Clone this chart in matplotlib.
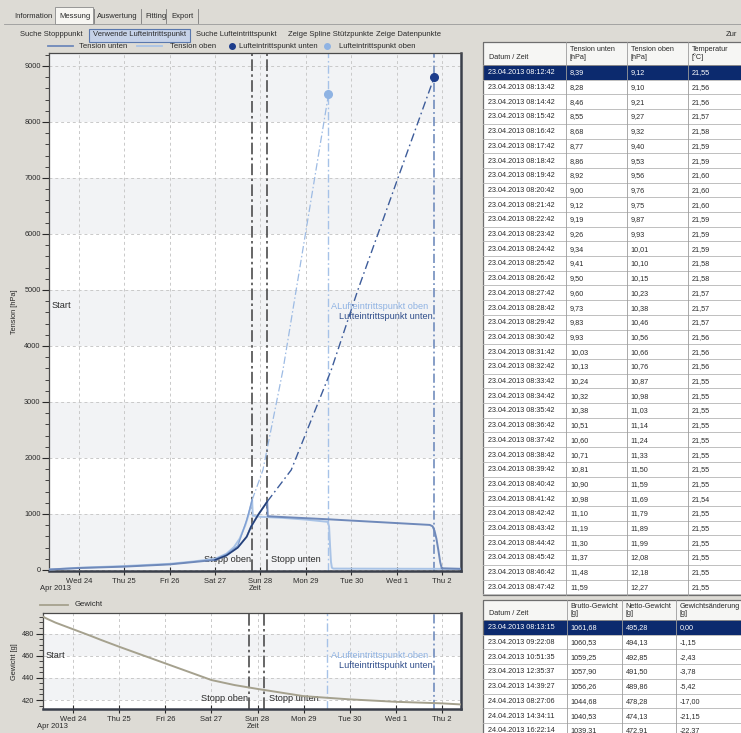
import matplotlib

matplotlib.use("Agg")
import matplotlib.dates as mdates
import matplotlib.pyplot as plt
import numpy as np
from matplotlib.lines import Line2D
from matplotlib.patches import Rectangle
from matplotlib.ticker import FuncFormatter, MultipleLocator

plt.rcParams["font.family"] = ["Liberation Sans", "DejaVu Sans"]

W, H = 741, 733
BG = "#dddbd5"

# ---------------- data ----------------
t_oben = ["2013-04-23 08:12", "2013-04-23 20:00", "2013-04-24 00:00", "2013-04-25 00:00",
          "2013-04-26 00:00", "2013-04-26 12:00", "2013-04-27 00:00", "2013-04-27 06:00",
          "2013-04-27 10:00", "2013-04-27 13:00", "2013-04-27 16:00", "2013-04-27 18:00",
          "2013-04-27 19:36", "2013-04-27 19:55", "2013-04-28 00:00", "2013-04-28 12:00",
          "2013-04-29 00:00", "2013-04-29 11:30", "2013-04-29 12:15", "2013-04-29 12:45",
          "2013-04-29 13:15", "2013-04-29 13:45", "2013-04-29 14:30", "2013-05-02 10:00"]
tension_oben = [9, 30, 40, 70, 110, 150, 200, 290, 410, 560, 800, 1020, 1250, 970, 950, 930,
                900, 860, 780, 450, 150, 40, 25, 20]

t_unten = ["2013-04-23 08:12", "2013-04-24 00:00", "2013-04-25 00:00", "2013-04-26 00:00",
           "2013-04-26 12:00", "2013-04-27 00:00", "2013-04-27 06:00", "2013-04-27 12:00",
           "2013-04-27 16:44", "2013-04-27 19:00", "2013-04-27 22:43", "2013-04-28 03:33",
           "2013-04-28 03:50", "2013-04-28 12:00", "2013-04-29 12:00", "2013-04-30 12:00",
           "2013-05-01 17:30", "2013-05-01 19:00", "2013-05-01 20:00", "2013-05-01 21:00",
           "2013-05-01 22:00", "2013-05-01 23:00", "2013-05-01 23:50", "2013-05-02 10:00"]
tension_unten = [8, 35, 60, 100, 140, 180, 260, 400, 595, 773, 982, 1220, 960, 945, 905, 860,
                 805, 780, 700, 560, 360, 140, 30, 20]

t_fit_oben = ["2013-04-27 00:00", "2013-04-27 06:00", "2013-04-27 12:00", "2013-04-27 16:44",
              "2013-04-27 19:36"]
fit_oben = [190, 280, 430, 893, 1250]
t_fit_unten = ["2013-04-27 00:00", "2013-04-27 06:00", "2013-04-27 12:00", "2013-04-27 16:44",
               "2013-04-27 19:00", "2013-04-27 22:43", "2013-04-28 03:33"]
fit_unten = [180, 260, 400, 595, 773, 982, 1220]

t_extra_oben = ["2013-04-27 19:36", "2013-04-28 01:18", "2013-04-28 11:53", "2013-04-29 11:57"]
extra_oben = [1250, 1786, 3571, 8494]
t_extra_unten = ["2013-04-28 03:33", "2013-04-28 16:15", "2013-04-29 13:24", "2013-04-30 03:29",
                 "2013-05-01 00:37", "2013-05-01 19:49"]
extra_unten = [1220, 1786, 3571, 5000, 6994, 8798]

t_stopp_oben = "2013-04-27 19:36"
t_stopp_unten = "2013-04-28 03:33"
t_luft_oben = "2013-04-29 11:57"
t_luft_unten = "2013-05-01 19:49"
luft_oben_value = 8494
luft_unten_value = 8798

t_gewicht = ["2013-04-23 08:13", "2013-04-23 09:22", "2013-04-23 10:51", "2013-04-23 12:35",
             "2013-04-23 14:39", "2013-04-24 08:27", "2013-04-24 14:34", "2013-04-25 00:00",
             "2013-04-26 00:00", "2013-04-27 00:00", "2013-04-27 12:00", "2013-04-28 00:00",
             "2013-04-29 00:00", "2013-04-30 00:00", "2013-05-01 00:00", "2013-05-02 00:00",
             "2013-05-02 10:00"]
gewicht = [495.28, 494.13, 492.85, 491.50, 489.86, 478.28, 474.13, 468, 453, 438, 433.5, 430,
           423.5, 420.6, 418.4, 417, 416]

x_range = ["2013-04-23 08:12:42", "2013-05-02 10:00"]

tab1_headers = ["Datum / Zeit", "Tension unten\n[hPa]", "Tension oben\n[hPa]", "Temperatur\n[°C]"]
tab1_time = [
    "23.04.2013 08:12:42", "23.04.2013 08:13:42", "23.04.2013 08:14:42", "23.04.2013 08:15:42",
    "23.04.2013 08:16:42", "23.04.2013 08:17:42", "23.04.2013 08:18:42", "23.04.2013 08:19:42",
    "23.04.2013 08:20:42", "23.04.2013 08:21:42", "23.04.2013 08:22:42", "23.04.2013 08:23:42",
    "23.04.2013 08:24:42", "23.04.2013 08:25:42", "23.04.2013 08:26:42", "23.04.2013 08:27:42",
    "23.04.2013 08:28:42", "23.04.2013 08:29:42", "23.04.2013 08:30:42", "23.04.2013 08:31:42",
    "23.04.2013 08:32:42", "23.04.2013 08:33:42", "23.04.2013 08:34:42", "23.04.2013 08:35:42",
    "23.04.2013 08:36:42", "23.04.2013 08:37:42", "23.04.2013 08:38:42", "23.04.2013 08:39:42",
    "23.04.2013 08:40:42", "23.04.2013 08:41:42", "23.04.2013 08:42:42", "23.04.2013 08:43:42",
    "23.04.2013 08:44:42", "23.04.2013 08:45:42", "23.04.2013 08:46:42", "23.04.2013 08:47:42",
]
tab1_unten = [8.39, 8.28, 8.46, 8.55, 8.68, 8.77, 8.86, 8.92, 9.00, 9.12, 9.19, 9.26,
              9.34, 9.41, 9.50, 9.60, 9.73, 9.83, 9.93, 10.03, 10.13, 10.24, 10.32, 10.38,
              10.51, 10.60, 10.71, 10.81, 10.90, 10.98, 11.10, 11.19, 11.30, 11.37, 11.48, 11.59]
tab1_oben = [9.12, 9.10, 9.21, 9.27, 9.32, 9.40, 9.53, 9.56, 9.76, 9.75, 9.87, 9.93,
             10.01, 10.10, 10.15, 10.23, 10.38, 10.46, 10.56, 10.66, 10.76, 10.87, 10.98, 11.03,
             11.14, 11.24, 11.33, 11.50, 11.59, 11.69, 11.79, 11.89, 11.99, 12.08, 12.18, 12.27]
tab1_temp = [21.55, 21.56, 21.56, 21.57, 21.58, 21.59, 21.59, 21.60, 21.60, 21.60, 21.59, 21.59,
             21.59, 21.58, 21.58, 21.57, 21.57, 21.57, 21.56, 21.56, 21.56, 21.55, 21.55, 21.55,
             21.55, 21.55, 21.55, 21.55, 21.55, 21.54, 21.55, 21.55, 21.55, 21.55, 21.55, 21.55]

tab2_headers = ["Datum / Zeit", "Brutto-Gewicht\n[g]", "Netto-Gewicht\n[g]", "Gewichtsänderung\n[g]"]
tab2_time = ["23.04.2013 08:13:15", "23.04.2013 09:22:08", "23.04.2013 10:51:35",
             "23.04.2013 12:35:37", "23.04.2013 14:39:27", "24.04.2013 08:27:06",
             "24.04.2013 14:34:11", "24.04.2013 16:22:14"]
tab2_brutto = [1061.68, 1060.53, 1059.25, 1057.90, 1056.26, 1044.68, 1040.53, 1039.31]
tab2_netto = [495.28, 494.13, 492.85, 491.50, 489.86, 478.28, 474.13, 472.91]
tab2_delta = [0.00, -1.15, -2.43, -3.78, -5.42, -17.00, -21.15, -22.37]

tabs = ["Information", "Messung", "Auswertung", "Fitting", "Export"]
toolbar = ["Suche Stopppunkt", "Verwende Lufteintrittspunkt", "Suche Lufteintrittspunkt",
           "Zeige Spline Stützpunkte", "Zeige Datenpunkte"]

C_UNTEN = "#6f89ba"
C_OBEN = "#a9c3e6"
C_UNTEN_FIT = "#243f77"
C_OBEN_FIT = "#7f9fd3"
C_LUFT_OBEN = "#8fb3e3"
C_LUFT_UNTEN = "#1d3d8c"
C_STOPP = "#4d4d4d"
C_GEWICHT = "#a5a18e"
TXT = "#2a2a2a"


def T(values):
    return mdates.date2num(np.array(values, dtype="datetime64[s]"))


def px_rect(x0, y0, x1, y1):
    return [x0 / W, 1 - y1 / H, (x1 - x0) / W, (y1 - y0) / H]


def num(v):
    return f"{v:.2f}".replace(".", ",")


def day_label(v, _pos):
    d = mdates.num2date(v)
    return f"{d:%a} {d.day}"


fig = plt.figure(figsize=(W / 100, H / 100), dpi=100)
fig.patch.set_facecolor(BG)

ui = fig.add_axes([0, 0, 1, 1])
ui.set_xlim(0, W)
ui.set_ylim(H, 0)
ui.axis("off")
ui.set_zorder(0)

# ---- tab strip and toolbar ----
ui.add_patch(Rectangle((55, 7), 38, 17, fc="#f7f6f2", ec="#8a8a8a", lw=0.6))
ui.plot([4, 55], [24, 24], color="#9a9a9a", lw=0.6)
ui.plot([93, W], [24, 24], color="#9a9a9a", lw=0.6)
tab_x = [14, 59, 97, 145, 171]
for x, label in zip(tab_x, tabs):
    ui.text(x, 16, label, fontsize=5.5, color=TXT, va="center")
for x in [94, 141, 166, 198]:
    ui.plot([x, x], [9, 23], color="#7a7a7a", lw=0.6)

ui.add_patch(Rectangle((88.5, 28.5), 101, 13, fc="#c6d2e8", ec="#5a78ad", lw=0.8))
bar_x = [20, 93, 196, 288, 376]
for x, label in zip(bar_x, toolbar):
    ui.text(x, 35, label, fontsize=5.5, color=TXT, va="center")
ui.text(726, 35, "Zur", fontsize=5.5, color=TXT, va="center")

# ---- legends drawn as GUI strips ----
ui.add_line(Line2D([48, 73], [46, 46], color=C_UNTEN, lw=1.3))
ui.text(79, 46, "Tension unten", fontsize=5.6, color=TXT, va="center")
ui.add_line(Line2D([137, 162], [46, 46], color=C_OBEN, lw=1.3))
ui.text(170, 46, "Tension oben", fontsize=5.6, color=TXT, va="center")
ui.plot([232], [46], "o", color=C_LUFT_UNTEN, ms=4)
ui.text(239, 46, "Lufteintrittspunkt unten", fontsize=5.6, color=TXT, va="center")
ui.plot([327], [46], "o", color=C_LUFT_OBEN, ms=4)
ui.text(339, 46, "Lufteintrittspunkt oben", fontsize=5.6, color=TXT, va="center")

ui.add_line(Line2D([40, 68], [605, 605], color=C_GEWICHT, lw=1.3))
ui.text(75, 605, "Gewicht", fontsize=5.6, color=TXT, va="center")

ui.text(14, 312, "Tension [hPa]", fontsize=5.3, color=TXT, rotation=90, ha="center", va="center")
ui.text(15, 662, "Gewicht [g]", fontsize=5.3, color=TXT, rotation=90, ha="center", va="center")
ui.text(40, 589, "Apr 2013", fontsize=5.5, color=TXT, va="center")
ui.text(255, 589, "Zeit", fontsize=5.5, color=TXT, va="center", ha="center")
ui.text(37, 726.5, "Apr 2013", fontsize=5.5, color=TXT, va="center")
ui.text(253, 726.5, "Zeit", fontsize=5.5, color=TXT, va="center", ha="center")


# ---- tables ----
def draw_table(x_cols, y0, y1, head_h, row_h, headers, columns):
    clip = Rectangle((x_cols[0], y0), W - x_cols[0], y1 - y0, transform=ui.transData)
    ui.add_patch(Rectangle((x_cols[0], y0), W - x_cols[0], y1 - y0, fc="white", ec="none"))
    ui.add_patch(Rectangle((x_cols[0], y0), W - x_cols[0], head_h, fc="#f6f6f4", ec="none"))
    for j, head in enumerate(headers):
        lines = head.split("\n")
        if len(lines) == 1:
            ui.text(x_cols[j] + 6, y0 + head_h * 0.68, head, fontsize=5.2, color=TXT, va="center")
        else:
            ui.text(x_cols[j] + 4, y0 + head_h * 0.33, lines[0], fontsize=5.2, color=TXT, va="center")
            ui.text(x_cols[j] + 4, y0 + head_h * 0.68, lines[1], fontsize=5.2, color=TXT, va="center")
    n_rows = len(columns[0])
    for i in range(n_rows):
        ry = y0 + head_h + i * row_h
        sel = i == 0
        if sel:
            ui.add_patch(Rectangle((x_cols[0], ry), W - x_cols[0], row_h, fc="#0c2a6e", ec="none"))
        line = ui.plot([x_cols[0], W], [ry + row_h, ry + row_h], color="#b4b4b4", lw=0.6)[0]
        line.set_clip_path(clip)
        for j, col in enumerate(columns):
            t = ui.text(x_cols[j] + (5 if j == 0 else 4), ry + row_h / 2 + 0.5, col[i],
                        fontsize=5.2, color="white" if sel else TXT, va="center")
            t.set_clip_path(clip)
    ui.plot([x_cols[0], W], [y0 + head_h, y0 + head_h], color="#8c8c8c", lw=0.7)
    for x in x_cols[1:]:
        ui.plot([x, x], [y0, y1], color="#9c9c9c", lw=0.6)
    ui.add_patch(Rectangle((x_cols[0], y0), W - x_cols[0] + 2, y1 - y0, fc="none", ec="#6e6e6e", lw=0.9))


draw_table([483, 566, 626.7, 687.7], 41.7, 595, 23.3, 14.7, tab1_headers,
           [tab1_time, [num(v) for v in tab1_unten], [num(v) for v in tab1_oben],
            [num(v) for v in tab1_temp]])
draw_table([483, 566.7, 621.7, 675.7], 600, H + 2, 20, 14.7, tab2_headers,
           [tab2_time, [num(v) for v in tab2_brutto], [num(v) for v in tab2_netto],
            [num(v) for v in tab2_delta]])


# ---- charts ----
def style_axes(ax, ylim, band_edges, major, minor):
    ax.set_facecolor("white")
    ax.set_xlim(T(x_range))
    ax.set_ylim(ylim)
    for lo, hi in band_edges:
        ax.axhspan(lo, hi, color="#f2f3f5", zorder=0, lw=0)
    ax.xaxis.set_major_locator(mdates.DayLocator())
    ax.xaxis.set_major_formatter(FuncFormatter(day_label))
    ax.yaxis.set_major_locator(MultipleLocator(major))
    ax.yaxis.set_minor_locator(MultipleLocator(minor))
    ax.grid(True, which="major", ls=(0, (3, 3)), color="#c9c9c9", lw=0.7)
    ax.set_axisbelow(True)
    ax.tick_params(axis="x", direction="inout", length=6, labelsize=5.5, colors=TXT, pad=2)
    ax.tick_params(axis="y", which="major", direction="out", length=5, labelsize=5.3, colors=TXT, pad=1)
    ax.tick_params(axis="y", which="minor", direction="out", length=3, colors=TXT)
    for side in ["left", "top"]:
        ax.spines[side].set_color("#4a4a4a")
        ax.spines[side].set_linewidth(0.9)
    for side in ["right", "bottom"]:
        ax.spines[side].set_color("#3a3f4a")
        ax.spines[side].set_linewidth(1.8)


def markers(ax, y_stopp, y_start, y_luft_oben, y_luft_unten):
    ax.axvline(T(t_stopp_oben), color=C_STOPP, ls=(0, (7, 2, 1.5, 2)), lw=1.2, zorder=2)
    ax.axvline(T(t_stopp_unten), color=C_STOPP, ls=(0, (7, 2, 1.5, 2)), lw=1.2, zorder=2)
    ax.axvline(T(t_luft_oben), color="#a6c2e8", ls=(0, (6, 2, 1.2, 2)), lw=1.0, zorder=2)
    ax.axvline(T(t_luft_unten), color="#6684b8", ls=(0, (6, 2, 1.2, 2)), lw=1.1, zorder=2)
    fs = 6.6
    ax.annotate("Start", xy=(0, y_start), xycoords=("axes fraction", "data"), xytext=(2, 0),
                textcoords="offset points", fontsize=fs, color=TXT, va="center")
    ax.annotate("Stopp oben", xy=(T(t_stopp_oben), y_stopp), xytext=(-1, 0),
                textcoords="offset points", fontsize=fs, color=TXT, va="center", ha="right")
    ax.annotate("Stopp unten", xy=(T(t_stopp_unten), y_stopp), xytext=(3, 0),
                textcoords="offset points", fontsize=fs, color=TXT, va="center", ha="left")
    ax.annotate("ALufteintrittspunkt oben", xy=(T(t_luft_unten), y_luft_oben), xytext=(-4, 0),
                textcoords="offset points", fontsize=fs, color=C_LUFT_OBEN, va="center", ha="right")
    ax.annotate("Lufteintrittspunkt unten", xy=(T(t_luft_unten), y_luft_unten), xytext=(-1, 0),
                textcoords="offset points", fontsize=fs, color="#2f4d8a", va="center", ha="right")


ax = fig.add_axes(px_rect(49, 53, 461, 571))
ax.set_zorder(2)
style_axes(ax, (-18, 9232), [(0, 1000), (2000, 3000), (4000, 5000), (6000, 7000), (8000, 9232)],
           1000, 200)
markers(ax, 196, 4730, 4714, 4518)
ax.plot(T(t_extra_oben), extra_oben, color="#9dbbe4", ls=(0, (6, 2, 1.2, 2)), lw=0.9, zorder=3)
ax.plot(T(t_extra_unten), extra_unten, color="#3d5c9a", ls=(0, (6, 2.5, 1.2, 2.5)), lw=1.0, zorder=3)
ax.plot(T(t_oben), tension_oben, color=C_OBEN, lw=1.4, zorder=4)
ax.plot(T(t_unten), tension_unten, color=C_UNTEN, lw=1.4, zorder=4)
ax.plot(T(t_fit_oben), fit_oben, color=C_OBEN_FIT, lw=1.0, zorder=5)
ax.plot(T(t_fit_unten), fit_unten, color=C_UNTEN_FIT, lw=1.1, zorder=5)
ax.plot(T([t_luft_oben]), [luft_oben_value], "o", color=C_LUFT_OBEN, ms=5.5, zorder=6)
ax.plot(T([t_luft_unten]), [luft_unten_value], "o", color=C_LUFT_UNTEN, ms=5.5, zorder=6)

ax2 = fig.add_axes(px_rect(43, 613, 461, 709))
ax2.set_zorder(2)
style_axes(ax2, (411.9, 498.5), [(420, 440), (460, 480)], 20, 5)
markers(ax2, 421.8, 460, 460, 450.8)
ax2.plot(T(t_gewicht), gewicht, color=C_GEWICHT, lw=1.4, zorder=4)

fig.savefig("out.png", dpi=100, facecolor=fig.get_facecolor())
